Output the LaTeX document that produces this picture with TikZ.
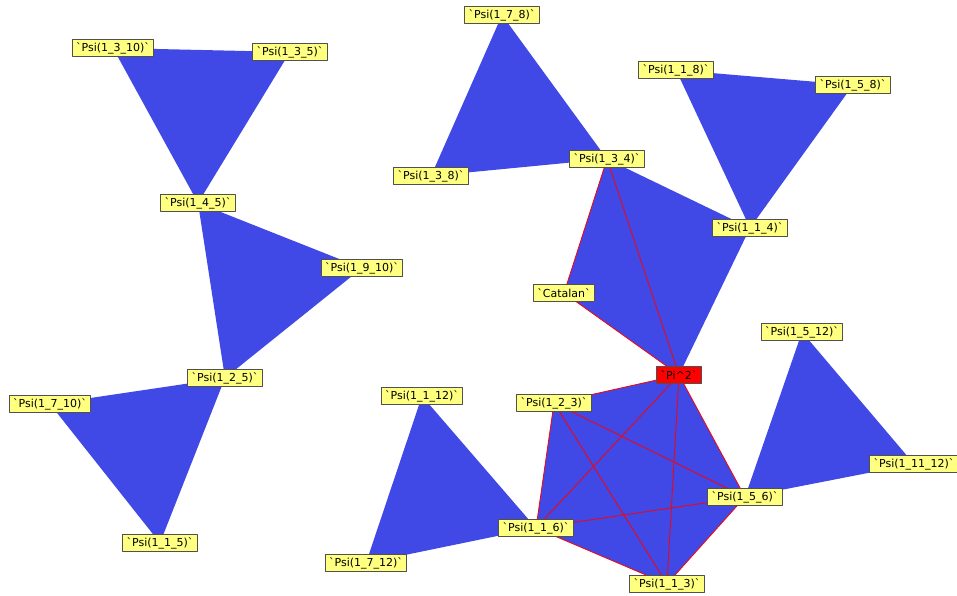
\documentclass[tikz,border=0pt]{standalone}
\usepackage{fontspec}
\setmainfont{DejaVu Sans}
\usetikzlibrary{backgrounds}
\definecolor{facecol}{RGB}{64,72,230}
\definecolor{lblcol}{RGB}{255,255,128}
\definecolor{rimcol}{RGB}{80,80,80}
\newcommand{\lbl}[1]{\textasciigrave Psi(#1)\textasciigrave}

\begin{document}
\begin{tikzpicture}[x=1pt,y=-1pt,line join=bevel,
  vert/.style={draw=rimcol,fill=lblcol,line width=0.9pt,inner xsep=4pt,inner ysep=2pt,minimum height=17pt,font=\fontsize{11}{12}\selectfont},
  hub/.style={vert,fill=red},
  face/.style={fill=facecol},
  edge/.style={red,line width=0.8pt}]
\useasboundingbox (0,0) rectangle (957,596);
%%
\node (psi_1_3_10) at (113,48) [vert] {\lbl{1\_3\_10}};
  \node (psi_1_3_5) at (290,52) [vert] {\lbl{1\_3\_5}};
  \node (psi_1_4_5) at (198,203) [vert] {\lbl{1\_4\_5}};
  \node (psi_1_9_10) at (362,268) [vert] {\lbl{1\_9\_10}};
  \node (psi_1_2_5) at (225,378) [vert] {\lbl{1\_2\_5}};
  \node (psi_1_7_10) at (50,404) [vert] {\lbl{1\_7\_10}};
  \node (psi_1_1_5) at (160,543) [vert] {\lbl{1\_1\_5}};
  \node (psi_1_7_8) at (502,15) [vert] {\lbl{1\_7\_8}};
  \node (psi_1_3_8) at (431,176) [vert] {\lbl{1\_3\_8}};
  \node (psi_1_3_4) at (607,159) [vert] {\lbl{1\_3\_4}};
  \node (psi_1_1_8) at (676,70) [vert] {\lbl{1\_1\_8}};
  \node (psi_1_5_8) at (853,85) [vert] {\lbl{1\_5\_8}};
  \node (psi_1_1_4) at (750,228) [vert] {\lbl{1\_1\_4}};
  \node (catalan) at (564,293) [vert] {\textasciigrave Catalan\textasciigrave};
  \node (pi_2) at (679,375) [hub] {\textasciigrave Pi\textasciicircum 2\textasciigrave};
  \node (psi_1_2_3) at (554,403) [vert] {\lbl{1\_2\_3}};
  \node (psi_1_1_12) at (422,396) [vert] {\lbl{1\_1\_12}};
  \node (psi_1_1_6) at (536,528) [vert] {\lbl{1\_1\_6}};
  \node (psi_1_7_12) at (366,563) [vert] {\lbl{1\_7\_12}};
  \node (psi_1_5_12) at (802,332) [vert] {\lbl{1\_5\_12}};
  \node (psi_1_11_12) at (914,464) [vert] {\lbl{1\_11\_12}};
  \node (psi_1_5_6) at (745,497) [vert] {\lbl{1\_5\_6}};
  \node (psi_1_1_3) at (667,584) [vert] {\lbl{1\_1\_3}};
\begin{pgfonlayer}{background}
  \fill [face] (psi_1_3_10.center) -- (psi_1_3_5.center) -- (psi_1_4_5.center) -- cycle;
  \fill [face] (psi_1_4_5.center) -- (psi_1_9_10.center) -- (psi_1_2_5.center) -- cycle;
  \fill [face] (psi_1_2_5.center) -- (psi_1_7_10.center) -- (psi_1_1_5.center) -- cycle;
  \fill [face] (psi_1_7_8.center) -- (psi_1_3_8.center) -- (psi_1_3_4.center) -- cycle;
  \fill [face] (psi_1_1_8.center) -- (psi_1_5_8.center) -- (psi_1_1_4.center) -- cycle;
  \fill [face] (psi_1_3_4.center) -- (psi_1_1_4.center) -- (pi_2.center) -- cycle;
  \fill [face] (psi_1_3_4.center) -- (catalan.center) -- (pi_2.center) -- cycle;
  \fill [face] (psi_1_1_12.center) -- (psi_1_7_12.center) -- (psi_1_1_6.center) -- cycle;
  \fill [face] (psi_1_5_12.center) -- (psi_1_11_12.center) -- (psi_1_5_6.center) -- cycle;
  \fill [face] (pi_2.center) -- (psi_1_2_3.center) -- (psi_1_1_6.center) -- (psi_1_1_3.center) -- (psi_1_5_6.center) -- cycle;
  \draw [edge] (catalan.center) -- (psi_1_3_4.center);
  \draw [edge] (catalan.center) -- (pi_2.center);
  \draw [edge] (psi_1_3_4.center) -- (pi_2.center);
  \draw [edge] (pi_2.center) -- (psi_1_2_3.center);
  \draw [edge] (pi_2.center) -- (psi_1_1_6.center);
  \draw [edge] (pi_2.center) -- (psi_1_1_3.center);
  \draw [edge] (pi_2.center) -- (psi_1_5_6.center);
  \draw [edge] (psi_1_2_3.center) -- (psi_1_1_6.center);
  \draw [edge] (psi_1_2_3.center) -- (psi_1_1_3.center);
  \draw [edge] (psi_1_2_3.center) -- (psi_1_5_6.center);
  \draw [edge] (psi_1_1_6.center) -- (psi_1_1_3.center);
  \draw [edge] (psi_1_1_6.center) -- (psi_1_5_6.center);
  \draw [edge] (psi_1_1_3.center) -- (psi_1_5_6.center);
\end{pgfonlayer}
%
\end{tikzpicture}
\end{document}
